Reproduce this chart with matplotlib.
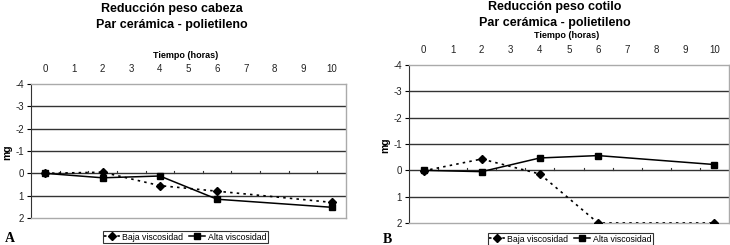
import numpy as np
import matplotlib.pyplot as plt

plt.rcParams['font.family'] = ['Liberation Sans', 'DejaVu Sans']

# time points (hours) and weight reduction (mg)
horas = [0, 2, 4, 6, 10]
cabeza_baja = [0.0, -0.05, 0.55, 0.8, 1.3]
cabeza_alta = [0.0, 0.2, 0.12, 1.16, 1.52]
cotilo_baja = [0.02, -0.43, 0.14, 2.0, 2.0]
cotilo_alta = [0.0, 0.05, -0.47, -0.56, -0.22]

titulos = [['Reducción peso cabeza', 'Par cerámica - polietileno'],
           ['Reducción peso cotilo', 'Par cerámica - polietileno']]
letras = ['A', 'B']
xticks = list(range(0, 11))
yticks = [-4, -3, -2, -1, 0, 1, 2]

fig = plt.figure(figsize=(7.3, 2.45), dpi=100)
W, H = 730, 245
# axes boxes in pixels: left, right, top, bottom
boxes = [(31, 346, 84, 218), (409, 729, 65, 223)]
title_x = [172, 555]
title_y = [(9, 25), (7, 23)]
tiempo_pos = [(186, 55), (567, 36)]
legend_box = [(185, 237), (570, 239)]
mg_x = [7, 385]
letter_pos = [(5, 238), (383, 239)]

series = [(cabeza_baja, cabeza_alta), (cotilo_baja, cotilo_alta)]

for i in range(2):
    l, r, t, b = boxes[i]
    ax = fig.add_axes([l / W, 1 - b / H, (r - l) / W, (b - t) / H])
    baja, alta = series[i]
    ax.plot(horas, baja, linestyle=(0, (1.5, 2.5)), color='black', lw=1.2,
            marker='D', ms=4, label='Baja viscosidad', zorder=3)
    ax.plot(horas, alta, linestyle='-', color='black', lw=1.1,
            marker='s', ms=3.8, label='Alta viscosidad', zorder=3)
    ax.set_xlim(-0.5, 10.5)
    ax.set_ylim(2, -4)
    ax.set_yticks(yticks)
    ax.set_yticklabels([str(v) for v in yticks], fontsize=7, color='#222222')
    ax.xaxis.tick_top()
    ax.set_xticks(xticks)
    ax.set_xticklabels([str(v) for v in xticks], fontsize=7, color='#222222')
    ax.tick_params(axis='x', length=0, pad=7)
    ax.tick_params(axis='y', length=3, direction='out', pad=2)
    for y in [-3, -2, -1, 0, 1]:
        ax.axhline(y, color='#333333', lw=1.0, zorder=1)
    # small category ticks on the zero line
    for xm in np.arange(0.5, 10, 1):
        ax.plot([xm, xm], [0, -0.1], color='#333333', lw=0.8, zorder=1)
    for s in ['top', 'right', 'bottom']:
        ax.spines[s].set_color('#aaaaaa')
        ax.spines[s].set_linewidth(1.0)
    ax.spines['left'].set_color('#333333')
    ax.set_facecolor('white')

    for line, yy in zip(titulos[i], title_y[i]):
        fig.text(title_x[i] / W, 1 - yy / H, line, ha='center', va='center',
                 fontsize=9, fontweight='bold')
    fig.text(tiempo_pos[i][0] / W, 1 - tiempo_pos[i][1] / H, 'Tiempo (horas)',
             ha='center', va='center', fontsize=6.5, fontweight='bold')
    fig.text(mg_x[i] / W, 1 - ((t + b) / 2 + 1) / H, 'mg', rotation=90,
             ha='center', va='center', fontsize=7.5, fontweight='bold')
    fig.text(letter_pos[i][0] / W, 1 - letter_pos[i][1] / H, letras[i],
             ha='left', va='center', fontsize=10, fontweight='bold',
             family='Liberation Serif')
    leg = fig.legend(handles=ax.get_lines()[:2], loc='center', ncol=2,
                     bbox_to_anchor=(legend_box[i][0] / W, 1 - legend_box[i][1] / H),
                     fontsize=6.3, frameon=True, fancybox=False, edgecolor='black',
                     handlelength=1.8, handletextpad=0.3, columnspacing=0.7,
                     borderpad=0.15, borderaxespad=0)
    leg.get_frame().set_linewidth(0.8)

fig.savefig('out.png', dpi=100)
